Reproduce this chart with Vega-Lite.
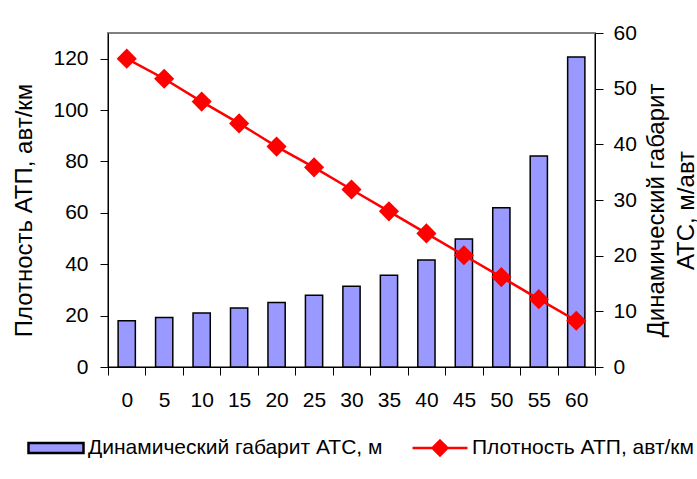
{
  "$schema": "https://vega.github.io/schema/vega-lite/v6.json",
  "width": 487,
  "height": 334,
  "autosize": {"type": "none"},
  "padding": {"left": 108, "top": 33, "right": 102, "bottom": 112},
  "background": "white",
  "config": {
    "font": "Liberation Sans",
    "view": {"stroke": "#808080", "strokeWidth": 2},
    "axis": {
      "labelFont": "Liberation Sans",
      "labelFontSize": 21,
      "labelColor": "black",
      "titleFont": "Liberation Sans",
      "titleFontSize": 24,
      "titleFontWeight": "normal",
      "titleColor": "black",
      "domainColor": "black",
      "domainWidth": 1,
      "tickColor": "black",
      "tickWidth": 1,
      "tickSize": 8,
      "grid": false
    },
    "legend": {
      "orient": "none",
      "legendY": 386,
      "direction": "horizontal",
      "padding": 0,
      "labelFont": "Liberation Sans",
      "labelFontSize": 21,
      "labelColor": "black",
      "labelLimit": 1000,
      "labelOffset": 3,
      "symbolSize": 3025,
      "symbolOpacity": 1
    }
  },
  "data": {
    "values": [
      {"t": 0, "gabarit": 8.3, "density": 120},
      {"t": 5, "gabarit": 8.9, "density": 112.2},
      {"t": 10, "gabarit": 9.7, "density": 103.3},
      {"t": 15, "gabarit": 10.6, "density": 94.8},
      {"t": 20, "gabarit": 11.6, "density": 85.8},
      {"t": 25, "gabarit": 12.9, "density": 77.7},
      {"t": 30, "gabarit": 14.5, "density": 69.1},
      {"t": 35, "gabarit": 16.5, "density": 60.6},
      {"t": 40, "gabarit": 19.2, "density": 52},
      {"t": 45, "gabarit": 23.0, "density": 43.5},
      {"t": 50, "gabarit": 28.6, "density": 35},
      {"t": 55, "gabarit": 37.9, "density": 26.4},
      {"t": 60, "gabarit": 55.7, "density": 18}
    ]
  },
  "encoding": {
    "x": {
      "field": "t",
      "type": "ordinal",
      "scale": {"paddingInner": 0, "paddingOuter": 0},
      "axis": {
        "title": null,
        "labelAngle": 0,
        "labelPadding": 14,
        "tickBand": "extent",
        "encode": {"ticks": {"update": {"y": {"value": -7}}}}
      }
    }
  },
  "layer": [
    {
      "mark": {"type": "bar", "width": {"band": 0.46}, "stroke": "black", "strokeWidth": 1.5},
      "encoding": {
        "y": {
          "field": "gabarit",
          "type": "quantitative",
          "scale": {"domain": [0, 60], "nice": false},
          "axis": {
            "orient": "right",
            "values": [0, 10, 20, 30, 40, 50, 60],
            "labelPadding": 10,
            "title": ["Динамический габарит", "АТС, м/авт"],
            "titleAngle": 270,
            "titlePadding": 2,
            "titleLineHeight": 30,
            "titleY": 177,
            "encode": {"ticks": {"update": {"x": {"value": -7}}}}
          }
        },
        "fill": {
          "datum": "Динамический габарит АТС, м",
          "scale": {"domain": ["Динамический габарит АТС, м"], "range": ["#9999FF"]},
          "legend": {
            "title": null,
            "legendX": -81,
            "symbolType": "M-1,-0.18H1V0.18H-1Z",
            "symbolStrokeColor": "#000000",
            "symbolStrokeWidth": 2.5
          }
        }
      }
    },
    {
      "mark": {
        "type": "line",
        "strokeWidth": 2.5,
        "point": {"shape": "diamond", "filled": true, "fill": "#FF0000", "size": 300, "opacity": 1}
      },
      "encoding": {
        "y": {
          "field": "density",
          "type": "quantitative",
          "scale": {"domain": [0, 130], "nice": false},
          "axis": {
            "orient": "left",
            "values": [0, 20, 40, 60, 80, 100, 120],
            "labelPadding": 12,
            "title": "Плотность АТП, авт/км",
            "titlePadding": 16,
            "titleY": 177,
            "encode": {"ticks": {"update": {"x": {"value": 7}}}}
          }
        },
        "stroke": {
          "datum": "Плотность АТП, авт/км",
          "scale": {"domain": ["Плотность АТП, авт/км"], "range": ["#FF0000"]},
          "legend": {
            "title": null,
            "legendX": 303,
            "symbolType": "M-1,0H1M0,-0.27L0.27,0L0,0.27L-0.27,0Z",
            "symbolFillColor": "#FF0000",
            "symbolStrokeWidth": 2.5
          }
        }
      }
    }
  ],
  "resolve": {"scale": {"y": "independent"}}
}
